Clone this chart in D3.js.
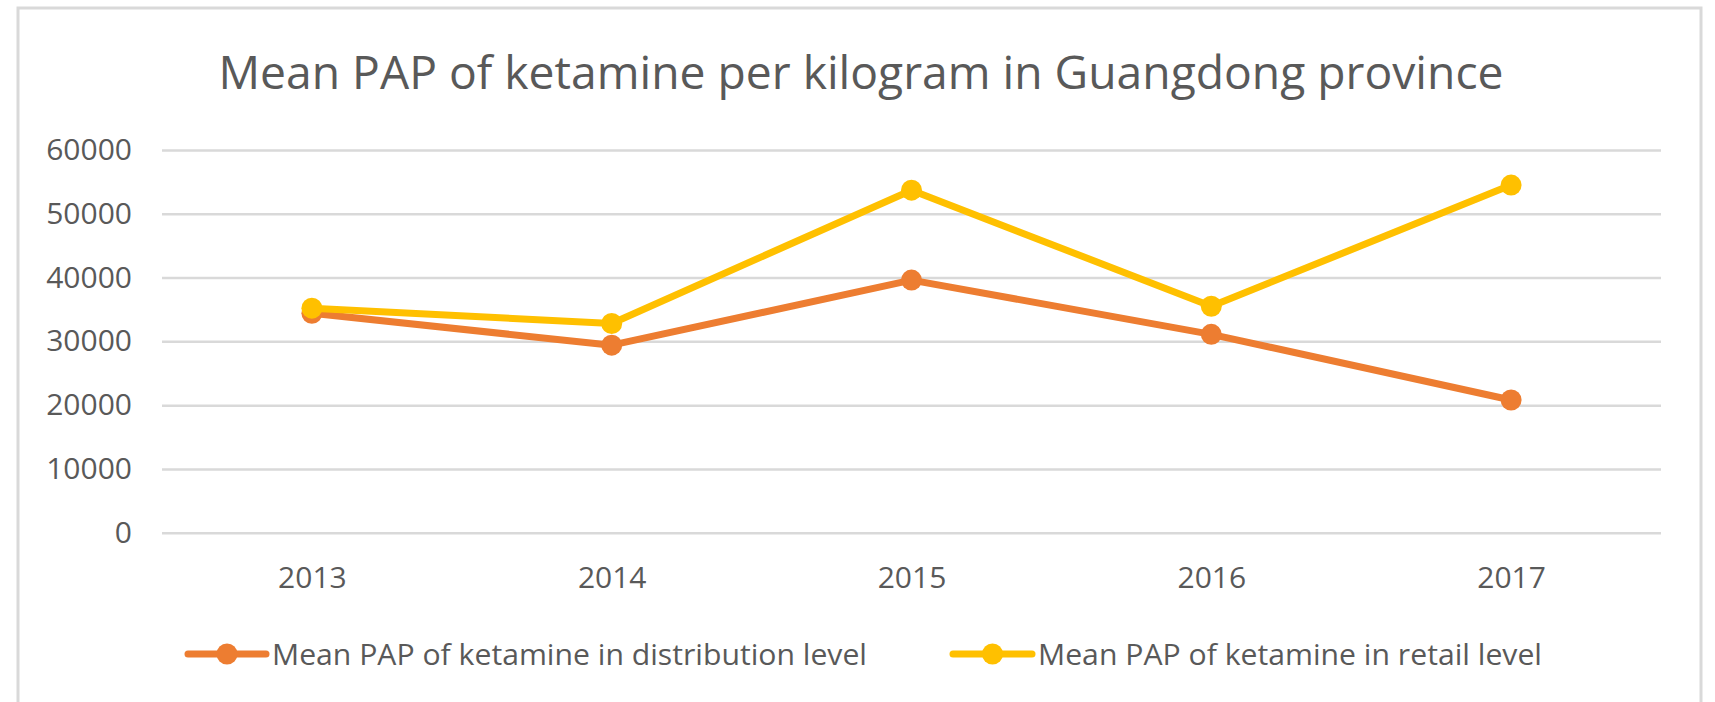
<!DOCTYPE html>
<html>
<head>
    <meta charset="utf-8">
    <title>Mean PAP of ketamine per kilogram</title>
    <script src="https://d3js.org/d3.v7.min.js"></script>
    <style>
      body { margin: 0; background: #fff; }
      text { font-family: "Open Sans", "Liberation Sans", sans-serif; fill: #595959; }
    </style>
</head>
<body>
<script>
    // chart data
    var years = ["2013", "2014", "2015", "2016", "2017"];
    var distribution = [34400, 29400, 39600, 31100, 20800];
    var retail = [35200, 32800, 53700, 35500, 54500];
    var yTicks = [0, 10000, 20000, 30000, 40000, 50000, 60000];
    var seriesNames = ["Mean PAP of ketamine in distribution level", "Mean PAP of ketamine in retail level"];
    var colors = ["#ED7D31", "#FFC000"];

    var width = 1715, height = 702;
    var plot = { left: 162, right: 1661, top: 150, bottom: 532.7 };

    var svg = d3.select("body")
      .append("svg")
      .attr("width", width)
      .attr("height", height);

    // outer chart border
    svg.append("rect")
      .attr("x", 18).attr("y", 8)
      .attr("width", 1683).attr("height", 720)
      .attr("fill", "#fff")
      .attr("stroke", "#d9d9d9")
      .attr("stroke-width", 3);

    svg.append("text")
      .attr("x", 861).attr("y", 89)
      .attr("text-anchor", "middle")
      .attr("font-size", 45)
      .attr("textLength", 1285)
      .attr("lengthAdjust", "spacingAndGlyphs")
      .text("Mean PAP of ketamine per kilogram in Guangdong province");

    var x = d3.scalePoint().domain(years).range([plot.left, plot.right]).padding(0.5);
    var y = d3.scaleLinear().domain([0, 60000]).range([plot.bottom, plot.top]);

    // y axis + gridlines
    var yAxis = svg.append("g")
      .attr("transform", "translate(" + plot.left + ",0)")
      .call(d3.axisLeft(y).tickValues(yTicks).tickSize(-(plot.right - plot.left)).tickPadding(30).tickFormat(d3.format("d")));
    yAxis.select(".domain").remove();
    yAxis.selectAll("line").attr("stroke", "#d9d9d9").attr("stroke-width", 2.5);
    yAxis.selectAll("text").attr("font-size", 30).attr("fill", "#595959");

    // x axis labels
    var xAxis = svg.append("g")
      .attr("transform", "translate(0," + plot.bottom + ")")
      .call(d3.axisBottom(x).tickSize(0).tickPadding(34));
    xAxis.select(".domain").remove();
    xAxis.selectAll("text").attr("font-size", 30).attr("fill", "#595959");
    svg.selectAll(".tick text").attr("font-family", null);

    var series = [distribution, retail];
    var line = d3.line()
      .x(function (d, i) { return x(years[i]); })
      .y(function (d) { return y(d); });

    series.forEach(function (s, k) {
      svg.append("path")
        .datum(s)
        .attr("d", line)
        .attr("fill", "none")
        .attr("stroke", colors[k])
        .attr("stroke-width", 7)
        .attr("stroke-linejoin", "round")
        .attr("stroke-linecap", "round");
      svg.append("g").selectAll("circle")
        .data(s)
        .enter()
        .append("circle")
        .attr("cx", function (d, i) { return x(years[i]); })
        .attr("cy", function (d) { return y(d); })
        .attr("r", 10.5)
        .attr("fill", colors[k]);
    });

    // legend
    var legendItems = [
      { x0: 188, x1: 266, tx: 272, tw: 595 },
      { x0: 953, x1: 1032, tx: 1038, tw: 504 }
    ];
    var ly = 654;
    legendItems.forEach(function (it, k) {
      var g = svg.append("g");
      g.append("line")
        .attr("x1", it.x0).attr("x2", it.x1)
        .attr("y1", ly).attr("y2", ly)
        .attr("stroke", colors[k])
        .attr("stroke-width", 7)
        .attr("stroke-linecap", "round");
      g.append("circle")
        .attr("cx", (it.x0 + it.x1) / 2).attr("cy", ly)
        .attr("r", 10.5)
        .attr("fill", colors[k]);
      g.append("text")
        .attr("x", it.tx).attr("y", ly + 11)
        .attr("font-size", 30)
        .attr("textLength", it.tw)
        .attr("lengthAdjust", "spacingAndGlyphs")
        .text(seriesNames[k]);
    });
</script>
</body>
</html>
